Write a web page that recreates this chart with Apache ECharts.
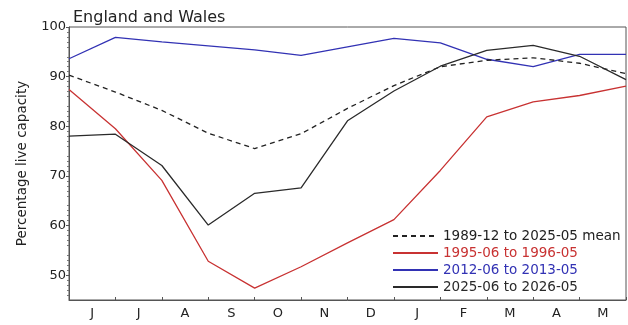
<!DOCTYPE html>
<html>
<head>
<meta charset="utf-8">
<script src="https://cdn.jsdelivr.net/npm/echarts@6/dist/echarts.min.js"></script>
<style>
  html, body { margin: 0; padding: 0; background: #fff; }
  #chart { width: 628px; height: 325px; }
</style>
</head>
<body>
<div id="chart"></div>
<script>
const months = ['J', 'J', 'A', 'S', 'O', 'N', 'D', 'J', 'F', 'M', 'A', 'M'];
const yTickValues = [50, 60, 70, 80, 90, 100];
const seriesNames = ['1989-12 to 2025-05 mean', '1995-06 to 1996-05', '2012-06 to 2013-05', '2025-06 to 2026-05'];
const meanValues = [90.3, 86.9, 83.2, 78.6, 75.5, 78.5, 83.6, 88.2, 92.0, 93.3, 93.8, 92.7, 90.6];
const y1995Values = [87.4, 79.5, 69.1, 52.8, 47.4, 51.7, 56.5, 61.2, 71.1, 81.9, 84.9, 86.2, 88.1];
const y2012Values = [93.6, 97.9, 97.0, 96.2, 95.4, 94.3, 96.0, 97.7, 96.8, 93.5, 92.0, 94.5, 94.5];
const y2025Values = [78.0, 78.4, 72.1, 60.1, 66.5, 67.6, 81.1, 87.1, 92.1, 95.3, 96.3, 94.1, 89.4];

const colors = ['#222222', '#c83232', '#3232b4', '#2a2a2a'];
const dashTypes = [[5, 4], 'solid', 'solid', 'solid'];
const allValues = [meanValues, y1995Values, y2012Values, y2025Values];

const font = 'DejaVu Sans';
const chart = echarts.init(document.getElementById('chart'), null, { renderer: 'canvas' });

const series = allValues.map((vals, k) => ({
  name: seriesNames[k],
  type: 'line',
  xAxisIndex: 0,
  yAxisIndex: 0,
  symbol: 'none',
  data: vals.map((v, i) => [i, v]),
  lineStyle: { color: colors[k], width: 1.3, type: dashTypes[k] },
  itemStyle: { color: colors[k] },
  z: k === 2 ? 2 : 3,
  animation: false
}));

chart.setOption({
  animation: false,
  backgroundColor: '#ffffff',
  title: {
    text: 'England and Wales',
    left: 68, top: 5,
    textStyle: { fontFamily: font, fontSize: 16, fontWeight: 'normal', color: '#222' }
  },
  grid: {
    left: 69, right: 2, top: 27, bottom: 25,
    show: true, borderColor: '#555', borderWidth: 1, backgroundColor: 'transparent'
  },
  legend: {
    orient: 'vertical',
    left: 387, top: 224,
    itemWidth: 45, itemHeight: 12, itemGap: 3,
    itemStyle: { opacity: 0 },
    textStyle: { fontFamily: font, fontSize: 13.5, padding: [0, 0, 0, 0] },
    data: seriesNames.map((n, k) => ({ name: n, textStyle: { color: colors[k] } }))
  },
  xAxis: [
    {
      type: 'value', min: 0, max: 12, interval: 1, position: 'bottom',
      axisLine: { show: true, lineStyle: { color: '#555', width: 1 } },
      axisTick: { show: true, inside: true, length: 3, lineStyle: { color: '#555' } },
      axisLabel: { show: false },
      splitLine: { show: false }
    },
    {
      type: 'category', data: months, boundaryGap: true, position: 'bottom',
      axisLine: { show: false }, axisTick: { show: false },
      axisLabel: { fontFamily: font, fontSize: 13, color: '#222', margin: 7 },
      splitLine: { show: false }
    }
  ],
  yAxis: [{
    type: 'value', min: 45, max: 100, interval: 5,
    name: 'Percentage live capacity', nameLocation: 'middle', nameGap: 40,
    nameTextStyle: { fontFamily: font, fontSize: 13.5, color: '#222' },
    axisLine: { show: true, lineStyle: { color: '#555', width: 1 } },
    axisTick: { show: true, length: 3, customValues: yTickValues, lineStyle: { color: '#555' } },
    minorTick: { show: true, splitNumber: 5, length: 2, lineStyle: { color: '#777' } },
    axisLabel: { fontFamily: font, fontSize: 13, color: '#222', margin: 3, customValues: yTickValues },
    splitLine: { show: false }
  }],
  series: series
});
</script>
</body>
</html>
